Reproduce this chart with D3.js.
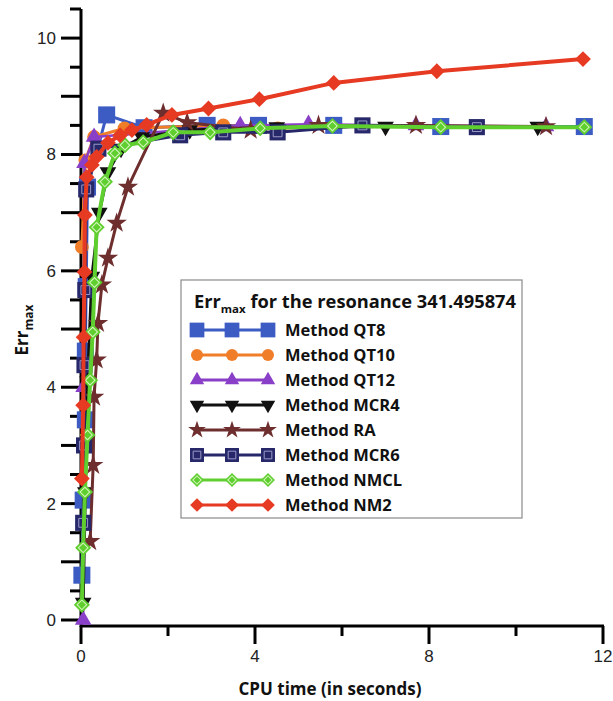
<!DOCTYPE html>
<html>
<head>
<meta charset="utf-8">
<title>Err max vs CPU time</title>
<script src="https://cdn.jsdelivr.net/npm/d3@7"></script>
<style>
  body { margin: 0; background: #fff; }
  svg { display: block; }
  .tick-label { font-family: "Liberation Sans", Arial, sans-serif; font-size: 17px; fill: #222; }
  .title { font-family: "Open Sans", "DejaVu Sans", sans-serif; font-weight: 700; fill: #111; }
</style>
</head>
<body>
<div id="chart"></div>
<script>
// data: [cpu time (s), Err max]
var qt8  = [[0.02,0.77],[0.05,2.06],[0.1,3.44],[0.1,4.62],[0.12,5.73],[0.15,7.44],[0.59,8.68],[1.45,8.46],[2.9,8.5],[4.08,8.5],[5.81,8.5],[8.27,8.48],[11.57,8.48]];
var qt10 = [[0.02,6.41],[0.1,7.9],[0.3,8.3],[1.0,8.45],[3.27,8.5],[4.52,8.45],[6.47,8.5]];
var qt12 = [[0.05,0.0],[0.06,4.0],[0.08,7.85],[0.3,8.3],[3.66,8.5],[5.23,8.52],[7.7,8.5],[10.69,8.48]];
var mcr4 = [[0.05,0.3],[0.1,2.2],[0.15,4.1],[0.25,5.9],[0.42,7.0],[0.62,7.7],[0.92,8.1],[1.4,8.3],[2.5,8.42],[4.5,8.47],[7.0,8.48],[10.5,8.48]];
var ra   = [[0.21,1.35],[0.28,2.66],[0.3,3.83],[0.36,4.47],[0.39,5.1],[0.48,5.76],[0.62,6.22],[0.82,6.82],[1.08,7.44],[1.89,8.71],[2.44,8.55],[3.9,8.42],[5.46,8.5],[7.7,8.5],[10.69,8.48]];
var mcr6 = [[0.05,1.67],[0.07,3.0],[0.08,4.38],[0.1,5.67],[0.12,7.4],[0.4,8.1],[2.28,8.33],[3.27,8.38],[4.52,8.38],[6.47,8.5],[9.1,8.47]];
var nmcl = [[0.02,0.26],[0.05,1.24],[0.09,2.2],[0.15,3.18],[0.21,4.12],[0.27,4.95],[0.31,5.8],[0.36,6.75],[0.55,7.53],[0.78,8.02],[1.01,8.16],[1.43,8.21],[2.12,8.38],[2.97,8.38],[4.12,8.45],[5.78,8.49],[8.27,8.47],[11.57,8.47]];
var nm2  = [[0.02,2.43],[0.05,3.69],[0.06,4.86],[0.08,5.98],[0.09,6.96],[0.13,7.61],[0.25,7.82],[0.36,7.96],[0.62,8.2],[0.9,8.33],[1.17,8.42],[1.51,8.51],[2.09,8.68],[2.93,8.79],[4.1,8.95],[5.81,9.23],[8.18,9.43],[11.54,9.64]];

var methodNames = ["Method QT8", "Method QT10", "Method QT12", "Method MCR4", "Method RA", "Method MCR6", "Method NMCL", "Method NM2"];
var xTicks = [0, 4, 8, 12];
var yTicks = [0, 2, 4, 6, 8, 10];

var series = [
  { name: methodNames[0], data: qt8,  color: "#3c5cc4", shape: "square",  size: 290, lw: 3 },
  { name: methodNames[1], data: qt10, color: "#f07d28", shape: "circle",  size: 150, lw: 3 },
  { name: methodNames[2], data: qt12, color: "#8a3fc8", shape: "tri",     size: 120, lw: 2.5 },
  { name: methodNames[3], data: mcr4, color: "#111111", shape: "tridown", size: 120, lw: 3 },
  { name: methodNames[4], data: ra,   color: "#6e2e2e", shape: "star",    size: 130, lw: 3 },
  { name: methodNames[5], data: mcr6, color: "#27286a", shape: "square2", size: 260, lw: 3 },
  { name: methodNames[6], data: nmcl, color: "#5fcf2f", shape: "diamond2",size: 130, lw: 4 },
  { name: methodNames[7], data: nm2,  color: "#e63a22", shape: "diamond", size: 125, lw: 4 }
];

var W = 613, H = 701;
var svg = d3.select("#chart").append("svg").attr("width", W).attr("height", H);

var x = d3.scaleLinear().domain([0, 12]).range([81, 603]);
var y = d3.scaleLinear().domain([0, 10.5]).range([620, 9]);

// y axis: long ticks at integers, short at halves, labels at even numbers
var yg = svg.append("g");
yg.append("line").attr("x1", 81).attr("x2", 81).attr("y1", y(10.5)).attr("y2", 627)
  .attr("stroke", "#000").attr("stroke-width", 3);
d3.range(0, 10.51, 0.5).forEach(function(v) {
  var isInt = Math.abs(v - Math.round(v)) < 1e-6;
  yg.append("line").attr("x1", isInt ? 61 : 70).attr("x2", 81)
    .attr("y1", y(v)).attr("y2", y(v)).attr("stroke", "#000").attr("stroke-width", 3);
});
yg.selectAll("text").data(yTicks).enter().append("text")
  .attr("class", "tick-label").attr("x", 56).attr("y", function(d) { return y(d); })
  .attr("dy", "0.35em").attr("text-anchor", "end").text(function(d) { return d; });

// x axis
var xg = svg.append("g");
xg.append("line").attr("x1", 80).attr("x2", x(12) + 1).attr("y1", 626).attr("y2", 626)
  .attr("stroke", "#000").attr("stroke-width", 3);
d3.range(0, 12.01, 2).forEach(function(v) {
  var major = v % 4 === 0;
  xg.append("line").attr("x1", x(v)).attr("x2", x(v)).attr("y1", 626).attr("y2", major ? 644 : 636)
    .attr("stroke", "#000").attr("stroke-width", 3);
});
xg.selectAll("text").data(xTicks).enter().append("text")
  .attr("class", "tick-label").attr("x", function(d) { return x(d); }).attr("y", 662)
  .attr("text-anchor", "middle").text(function(d) { return d; });

// axis titles
svg.append("text").attr("class", "title").attr("x", 330).attr("y", 695)
  .attr("text-anchor", "middle").style("font-size", "17px").text("CPU time (in seconds)");
var yt = svg.append("text").attr("class", "title")
  .attr("transform", "translate(28,330) rotate(-90)").attr("text-anchor", "middle")
  .style("font-size", "17px");
yt.append("tspan").text("Err");
yt.append("tspan").attr("dy", 5).style("font-size", "12px").text("max");

function symbolPath(shape, size) {
  var t = { square: d3.symbolSquare, square2: d3.symbolSquare, circle: d3.symbolCircle,
            tri: d3.symbolTriangle, tridown: d3.symbolTriangle, star: d3.symbolStar,
            diamond: d3.symbolSquare, diamond2: d3.symbolSquare }[shape];
  return d3.symbol().type(t).size(size)();
}
function rot(shape) {
  if (shape === "tridown") return 180;
  if (shape === "diamond" || shape === "diamond2") return 45;
  return 0;
}
function drawMarker(g, s, cx, cy, scale) {
  var sz = s.size * scale;
  var m = g.append("g").attr("transform", "translate(" + cx + "," + cy + ") rotate(" + rot(s.shape) + ")");
  m.append("path").attr("d", symbolPath(s.shape, sz)).attr("fill", s.color);
  if (s.shape === "square2") {
    m.append("path").attr("d", symbolPath("square", sz * 0.3)).attr("fill", "none")
      .attr("stroke", "#9a9ac8").attr("stroke-width", 1);
  }
  if (s.shape === "diamond2") {
    m.append("path").attr("d", symbolPath("square", sz * 0.35)).attr("fill", "none")
      .attr("stroke", "#d8f5c0").attr("stroke-width", 1);
  }
}

var line = d3.line().x(function(d) { return x(d[0]); }).y(function(d) { return y(d[1]); });
var plot = svg.append("g");
series.forEach(function(s) {
  var g = plot.append("g");
  g.append("path").datum(s.data).attr("d", line).attr("fill", "none")
    .attr("stroke", s.color).attr("stroke-width", s.lw).attr("stroke-linejoin", "round");
  s.data.forEach(function(d) { drawMarker(g, s, x(d[0]), y(d[1]), 1); });
});

// legend
var lg = svg.append("g");
lg.append("rect").attr("x", 181).attr("y", 280).attr("width", 341).attr("height", 238)
  .attr("fill", "#fff").attr("stroke", "#8a8a8a").attr("stroke-width", 1.2);
var lt = lg.append("text").attr("class", "title").attr("x", 194).attr("y", 308)
  .style("font-size", "17.5px").attr("textLength", 322).attr("lengthAdjust", "spacingAndGlyphs");
lt.append("tspan").text("Err");
lt.append("tspan").attr("dy", 5).style("font-size", "11px").text("max");
lt.append("tspan").attr("dy", -5).text(" for the resonance 341.495874");
series.forEach(function(s, i) {
  var cy = 330 + i * 25;
  var g = lg.append("g");
  g.append("line").attr("x1", 196).attr("x2", 269).attr("y1", cy).attr("y2", cy)
    .attr("stroke", s.color).attr("stroke-width", 3);
  [197, 232, 268].forEach(function(cx) { drawMarker(g, s, cx, cy, 0.75); });
  g.append("text").attr("class", "title").attr("x", 285).attr("y", cy).attr("dy", "0.36em")
    .style("font-size", "16.5px").text(s.name);
});
</script>
</body>
</html>
